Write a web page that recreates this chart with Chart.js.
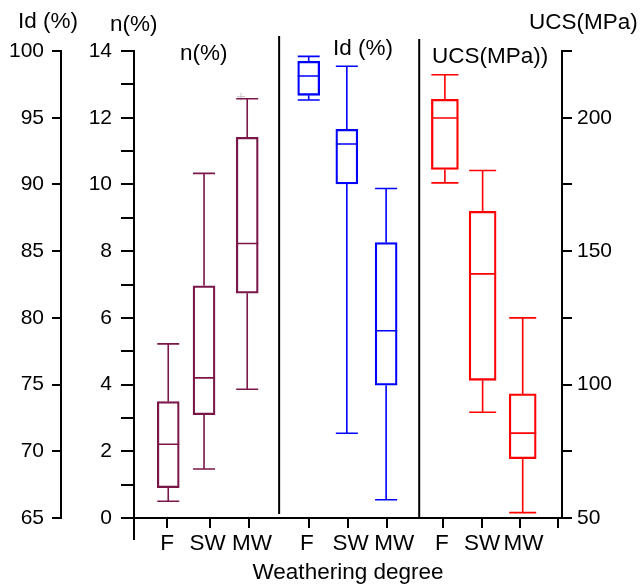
<!DOCTYPE html>
<html>
<head>
<meta charset="utf-8">
<script src="https://cdn.jsdelivr.net/npm/chart.js@4.4.0/dist/chart.umd.min.js"></script>
<style>
  html, body { margin: 0; padding: 0; background: #fff; }
  #wrap { width: 641px; height: 588px; }
</style>
</head>
<body>
<div id="wrap"><canvas id="chart" width="641" height="588"></canvas></div>
<script>
// five-number summaries per weathering degree (F, SW, MW): [min, q1, median, q3, max]
const degrees = ["F", "SW", "MW"];
const porosity = [
  [0.5, 0.91, 2.21, 3.49, 5.22],
  [1.47, 3.1, 4.2, 6.96, 10.33],
  [3.86, 6.74, 8.23, 11.41, 12.57]
];
const slakeIndex = [
  [96.33, 96.68, 98.13, 99.23, 99.6],
  [71.35, 90.03, 93.03, 94.13, 98.86],
  [66.37, 74.95, 79.03, 85.65, 89.7]
];
const ucs = [
  [175.6, 180.6, 199.9, 206.9, 216.1],
  [89.6, 101.6, 141.5, 164.9, 180.2],
  [52.0, 72.2, 81.8, 96.5, 125.0]
];
const porosityOutliers = [12.63];
const ucsOutliers = [220.6];

const nTicks = [0, 1, 2, 3, 4, 5, 6, 7, 8, 9, 10, 11, 12, 13, 14];
const idTicks = [65, 70, 75, 80, 85, 90, 95, 100];
const ucsTicks = [50, 75, 100, 125, 150, 175, 200, 225];

// slot layout on the shared horizontal axis
const tickSlots = [0.86, 1.95, 2.95, 4.5, 5.5, 6.49, 7.95, 8.95, 9.91, 10.91];
const labelSlots = [0.85, 1.89, 3.03, 4.44, 5.57, 6.69, 7.91, 8.95, 10.01];
const nSlots = [0.88, 1.8, 2.91];
const idSlots = [4.49, 5.47, 6.48];
const ucsSlots = [7.99, 8.96, 9.99];
const dividers = [3.73, 7.33];

const FONT = "'Liberation Sans', Arial, sans-serif";
const MAROON = "#7a1648";
const LINE = 1.6;

function boxData(stats, slots) {
  return stats.map((s, i) => ({ x: slots[i], y: [s[1], s[3]] }));
}

function boxSet(label, stats, slots, axis, color, width) {
  return {
    type: "bar",
    label: label,
    data: boxData(stats, slots),
    stats: stats,
    yAxisID: axis,
    backgroundColor: "rgba(255,255,255,0)",
    borderColor: color,
    borderWidth: LINE,
    borderSkipped: false,
    barThickness: width,
    grouped: false
  };
}

function outlierSet(values, slot, axis, size) {
  return {
    type: "scatter",
    data: values.map(v => ({ x: slot, y: v })),
    yAxisID: axis,
    pointStyle: "cross",
    pointRadius: size,
    pointBorderColor: "#c4c4c4",
    pointBorderWidth: 1,
    clip: false
  };
}

// whiskers, caps and median lines for each box
const whiskerPlugin = {
  id: "whiskers",
  afterDatasetsDraw(chart) {
    const ctx = chart.ctx;
    const xs = chart.scales.x;
    chart.data.datasets.forEach(ds => {
      if (!ds.stats) return;
      const ys = chart.scales[ds.yAxisID];
      const half = ds.barThickness / 2;
      ctx.save();
      ctx.strokeStyle = ds.borderColor;
      ctx.lineWidth = LINE;
      ds.stats.forEach((s, i) => {
        const cx = xs.getPixelForValue(ds.data[i].x);
        const yMin = ys.getPixelForValue(s[0]);
        const yQ1 = ys.getPixelForValue(s[1]);
        const yMed = ys.getPixelForValue(s[2]);
        const yQ3 = ys.getPixelForValue(s[3]);
        const yMax = ys.getPixelForValue(s[4]);
        ctx.beginPath();
        ctx.moveTo(cx, yQ3); ctx.lineTo(cx, yMax);
        ctx.moveTo(cx, yQ1); ctx.lineTo(cx, yMin);
        ctx.moveTo(cx - half, yMax); ctx.lineTo(cx + half, yMax);
        ctx.moveTo(cx - half, yMin); ctx.lineTo(cx + half, yMin);
        ctx.moveTo(cx - half, yMed); ctx.lineTo(cx + half, yMed);
        ctx.stroke();
      });
      ctx.restore();
    });
  }
};

// panel dividers, degree labels, axis titles and panel labels
const decorPlugin = {
  id: "decor",
  afterDraw(chart) {
    const ctx = chart.ctx;
    const xs = chart.scales.x;
    const area = chart.chartArea;
    ctx.save();
    ctx.strokeStyle = "#000";
    ctx.lineWidth = 2;
    ctx.beginPath();
    const d0 = xs.getPixelForValue(dividers[0]);
    const d1 = xs.getPixelForValue(dividers[1]);
    ctx.moveTo(d0, area.top - 15); ctx.lineTo(d0, area.bottom - 4);
    ctx.moveTo(d1, area.top - 12); ctx.lineTo(d1, area.bottom - 1);
    // left axis line runs past the baseline
    ctx.moveTo(area.left, area.bottom);
    ctx.lineTo(area.left, area.bottom + 22);
    ctx.stroke();

    ctx.fillStyle = "#000";
    ctx.textBaseline = "middle";
    ctx.font = "22.5px " + FONT;
    ctx.textAlign = "center";
    labelSlots.forEach((v, i) => {
      ctx.fillText(degrees[i % 3], xs.getPixelForValue(v), area.bottom + 26);
    });

    ctx.textAlign = "left";
    ctx.fillText("Id (%)", 18, 22);
    ctx.fillText("n(%)", 110, 25);
    ctx.fillText("UCS(MPa)", 529, 23);
    ctx.fillText("n(%)", 180, 54);
    ctx.fillText("Id (%)", 333, 49);
    ctx.fillText("UCS(MPa))", 432, 57);
    ctx.restore();
  }
};

function yAxis(ticks, pos, weight, width, tickLen, pad, showLabel) {
  return {
    type: "linear",
    position: pos,
    weight: weight,
    min: ticks[0],
    max: ticks[ticks.length - 1],
    afterBuildTicks: s => { s.ticks = ticks.map(v => ({ value: v })); },
    afterFit: s => { s.width = width; },
    ticks: {
      autoSkip: false,
      padding: pad,
      color: "#000",
      font: { family: FONT, size: 21 },
      callback: v => (showLabel(v) ? String(v) : "")
    },
    grid: {
      drawOnChartArea: false,
      drawTicks: true,
      tickLength: tickLen,
      color: "#000",
      lineWidth: 2
    },
    border: { display: true, color: "#000", width: 2 }
  };
}

new Chart(document.getElementById("chart"), {
  type: "bar",
  data: {
    datasets: [
      boxSet("n(%)", porosity, nSlots, "n", MAROON, 22),
      boxSet("Id (%)", slakeIndex, idSlots, "id", "#0000ff", 22),
      boxSet("UCS(MPa)", ucs, ucsSlots, "ucs", "#ff0000", 27),
      outlierSet(porosityOutliers, 2.75, "n", 4),
      outlierSet(ucsOutliers, 12.7, "ucs", 7)
    ]
  },
  options: {
    responsive: false,
    animation: false,
    devicePixelRatio: 1,
    layout: { padding: { top: 51, left: 0, right: 0, bottom: 0 } },
    plugins: {
      legend: { display: false },
      tooltip: { enabled: false }
    },
    scales: {
      x: {
        type: "linear",
        position: "bottom",
        min: 0,
        max: 11,
        offset: false,
        afterBuildTicks: s => { s.ticks = tickSlots.map(v => ({ value: v })); },
        afterFit: s => { s.height = 70; },
        ticks: {
          autoSkip: false,
          maxRotation: 0,
          padding: 6,
          color: "#000",
          font: { family: FONT, size: 22 },
          callback: () => ""
        },
        grid: {
          offset: false,
          drawOnChartArea: false,
          drawTicks: true,
          tickLength: 10,
          color: "#000",
          lineWidth: 2
        },
        border: { display: true, color: "#000", width: 2 },
        title: {
          display: true,
          text: "Weathering degree",
          color: "#000",
          font: { family: FONT, size: 22.5 },
          padding: { top: 0, bottom: 2 }
        }
      },
      n: yAxis(nTicks, "left", 0, 73, 13, 9, v => v % 2 === 0),
      id: yAxis(idTicks, "left", 1, 61, 9, 8, () => true),
      ucs: yAxis(ucsTicks, "right", 0, 79, 10, 5, v => v % 50 === 0)
    }
  },
  plugins: [whiskerPlugin, decorPlugin]
});
</script>
</body>
</html>
